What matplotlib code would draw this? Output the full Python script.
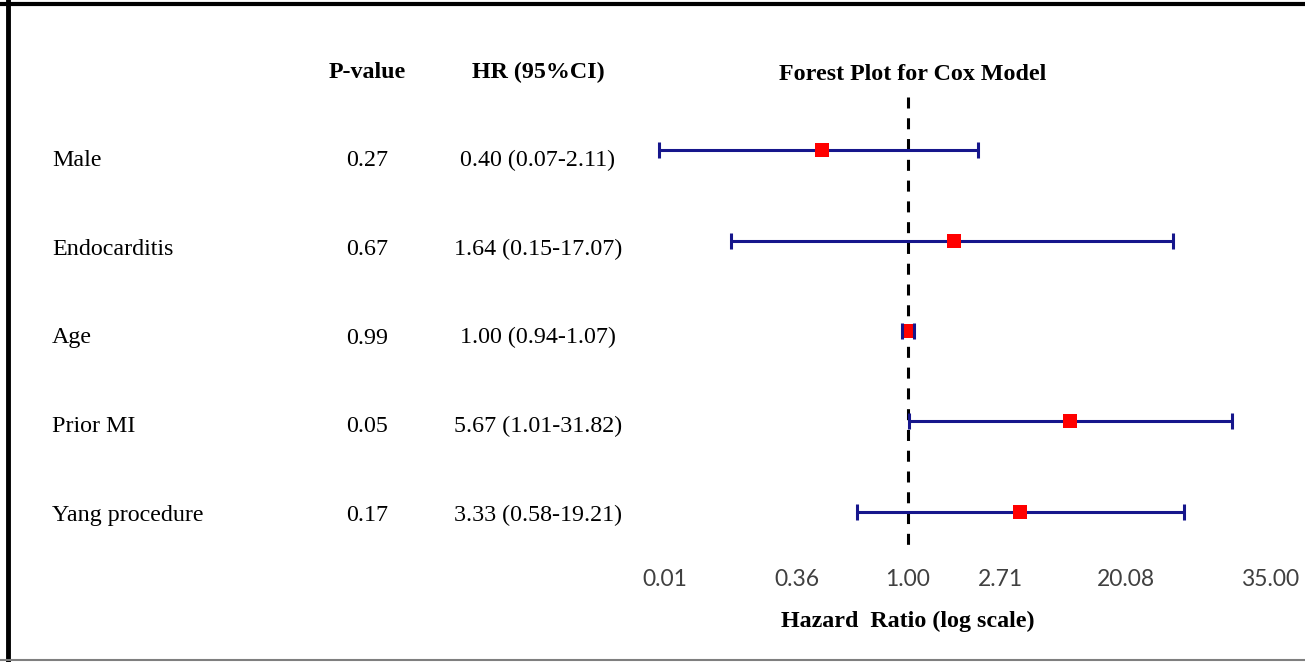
import numpy as np
import matplotlib
matplotlib.use('Agg')
import matplotlib.pyplot as plt
from matplotlib.lines import Line2D

# ---- data ----
variables = ["Male", "Endocarditis", "Age", "Prior MI", "Yang procedure"]
p_values = ["0.27", "0.67", "0.99", "0.05", "0.17"]
hr = np.array([0.40, 1.64, 1.00, 5.67, 3.33])
ci_low = np.array([0.07, 0.15, 0.94, 1.01, 0.58])
ci_high = np.array([2.11, 17.07, 1.07, 31.82, 19.21])
tick_labels = ["0.01", "0.36", "1.00", "2.71", "20.08", "35.00"]
ref_value = 1.0

# ---- layout (pixels) ----
W, H = 1305, 662
PX = 93.5          # pixels per natural-log unit
X0 = 908           # pixel x of HR = 1
ax_left, ax_right = 620, 1300
ax_top, ax_bot = 97, 553
row_y0, row_dy = 150, 90.5
text_y0, text_dy = 166, 88.75   # baselines of table text
tick_px = [665, 797, 908, 1000, 1126, 1270]

serif = "Liberation Serif"
sans = "Lato"
FS = 17.3

def fy(py):
    return 1 - py / H

fig = plt.figure(figsize=(W / 100, H / 100), dpi=100)
ax = fig.add_axes([ax_left / W, 1 - ax_bot / H,
                   (ax_right - ax_left) / W, (ax_bot - ax_top) / H])
ax.set_xscale('log')
ax.set_xlim(np.exp((ax_left - X0) / PX), np.exp((ax_right - X0) / PX))
ax.set_ylim((ax_bot - row_y0) / row_dy, (ax_top - row_y0) / row_dy)

ypos = np.arange(len(variables))

# reference line drawn from top to bottom so the dash pattern starts at the top
y_bottom, y_top = ax.get_ylim()
ax.plot([ref_value, ref_value], [y_top, y_bottom], color='black', lw=2.2,
        dashes=[3.6, 3.2], zorder=1)
eb = ax.errorbar(hr, ypos, xerr=[hr - ci_low, ci_high - hr], fmt='none',
                 ecolor='#16168C', elinewidth=2.2, capsize=6, capthick=2.2, zorder=2)
for cl in eb[1]:
    cl.set_zorder(4)
ax.plot(hr, ypos, linestyle='none', marker='s', markersize=10,
        color='#FF0000', markeredgewidth=0, zorder=3)
ax.set_ylim(y_bottom, y_top)

tick_vals = [np.exp((p - X0) / PX) for p in tick_px]
ax.set_xticks(tick_vals)
ax.set_xticklabels(tick_labels, fontfamily=sans, fontsize=16.5, color='#404040')
ax.xaxis.set_minor_locator(matplotlib.ticker.NullLocator())
ax.tick_params(axis='x', length=0, pad=11.5)
ax.set_yticks([])
for s in ax.spines.values():
    s.set_visible(False)
ax.patch.set_alpha(0)

# x label
fig.text(908 / W, fy(627), "Hazard  Ratio (log scale)", ha='center', va='baseline',
         fontfamily=serif, fontweight='bold', fontsize=FS)

# headers and title
fig.text(367 / W, fy(78), "P-value", ha='center', va='baseline',
         fontfamily=serif, fontweight='bold', fontsize=FS)
fig.text(538 / W, fy(78), "HR (95%CI)", ha='center', va='baseline',
         fontfamily=serif, fontweight='bold', fontsize=FS)
fig.text(913 / W, fy(80), "Forest Plot for Cox Model", ha='center', va='baseline',
         fontfamily=serif, fontweight='bold', fontsize=FS)

# table columns
for i, (v, p, h, lo, hi) in enumerate(zip(variables, p_values, hr, ci_low, ci_high)):
    yb = fy(text_y0 + text_dy * i)
    fig.text(52 / W, yb, v, ha='left', va='baseline',
             fontfamily=serif, fontsize=FS)
    fig.text(367 / W, yb, p, ha='center', va='baseline',
             fontfamily=serif, fontsize=FS)
    fig.text(538 / W, yb, f"{h:.2f} ({lo:.2f}-{hi:.2f})",
             ha='center', va='baseline', fontfamily=serif, fontsize=FS)

# frame
fig.add_artist(Line2D([0, 1], [fy(3.5), fy(3.5)], color='black', lw=3,
                      transform=fig.transFigure))
fig.add_artist(Line2D([7.5 / W, 7.5 / W], [0, 1], color='black', lw=3.5,
                      transform=fig.transFigure))
fig.add_artist(Line2D([0, 1], [fy(660), fy(660)], color='#7F7F7F', lw=1.5,
                      transform=fig.transFigure))

fig.savefig('out.png', dpi=100, facecolor='white')
